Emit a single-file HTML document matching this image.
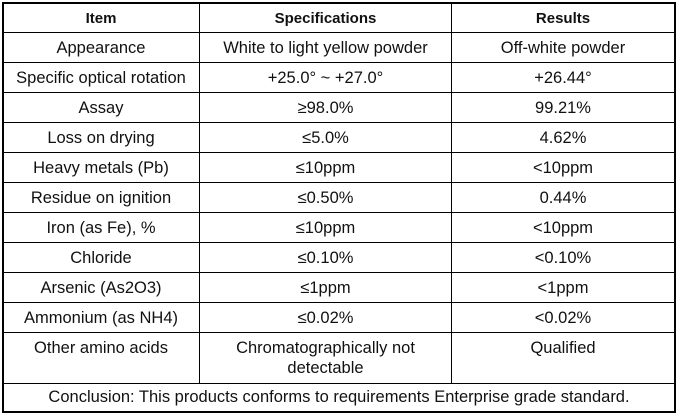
<!DOCTYPE html>
<html><head><style>
body{margin:0;width:678px;height:416px;background:#fff;position:relative;font-family:"Liberation Sans",sans-serif;font-size:16.5px;color:#111;overflow:hidden}
.h{position:absolute;left:3px;width:673px;height:2px;background:#000}
.v{position:absolute;width:2px;background:#000}
.t{position:absolute;text-align:center;line-height:20px;white-space:nowrap}
b{font-weight:bold;font-size:15px}
</style></head><body>
<div class="h" style="top:2px"></div>
<div class="h" style="top:32px;height:1px"></div>
<div class="h" style="top:62px;height:1px"></div>
<div class="h" style="top:92px;height:1px"></div>
<div class="h" style="top:122px;height:1px"></div>
<div class="h" style="top:152px;height:1px"></div>
<div class="h" style="top:182px;height:1px"></div>
<div class="h" style="top:212px;height:1px"></div>
<div class="h" style="top:242px;height:1px"></div>
<div class="h" style="top:272px;height:1px"></div>
<div class="h" style="top:302px;height:1px"></div>
<div class="h" style="top:332px;height:1px"></div>
<div class="h" style="top:383px;height:1px"></div>
<div class="h" style="top:411px"></div>
<div class="v" style="left:2px;top:2px;height:411px"></div>
<div class="v" style="left:674px;top:2px;height:411px"></div>
<div class="v" style="left:199px;top:2px;height:381px;width:1px"></div>
<div class="v" style="left:451px;top:2px;height:381px;width:1px"></div>
<div id="c"></div>
<script>
var rows=[["<b>Item</b>","<b>Specifications</b>","<b>Results</b>"],
["Appearance","White to light yellow powder","Off-white powder"],
["Specific optical rotation","+25.0° ~ +27.0°","+26.44°"],
["Assay","≥98.0%","99.21%"],
["Loss on drying","≤5.0%","4.62%"],
["Heavy metals (Pb)","≤10ppm","&lt;10ppm"],
["Residue on ignition","≤0.50%","0.44%"],
["Iron (as Fe), %","≤10ppm","&lt;10ppm"],
["Chloride","≤0.10%","&lt;0.10%"],
["Arsenic (As2O3)","≤1ppm","&lt;1ppm"],
["Ammonium (as NH4)","≤0.02%","&lt;0.02%"],
["Other amino acids","Chromatographically not<br>detectable","Qualified"]];
var cols=[[3,196],[200,251],[452,222]];var h="";
rows.forEach(function(r,i){var top=2+i*30+6;r.forEach(function(s,j){h+='<div class="t" style="left:'+cols[j][0]+'px;width:'+cols[j][1]+'px;top:'+top+'px">'+s+'</div>';});});
h+='<div class="t" style="left:3px;width:672px;top:387px">Conclusion: This products conforms to requirements Enterprise grade standard.</div>';
document.getElementById("c").innerHTML=h;
</script>
</body></html>
